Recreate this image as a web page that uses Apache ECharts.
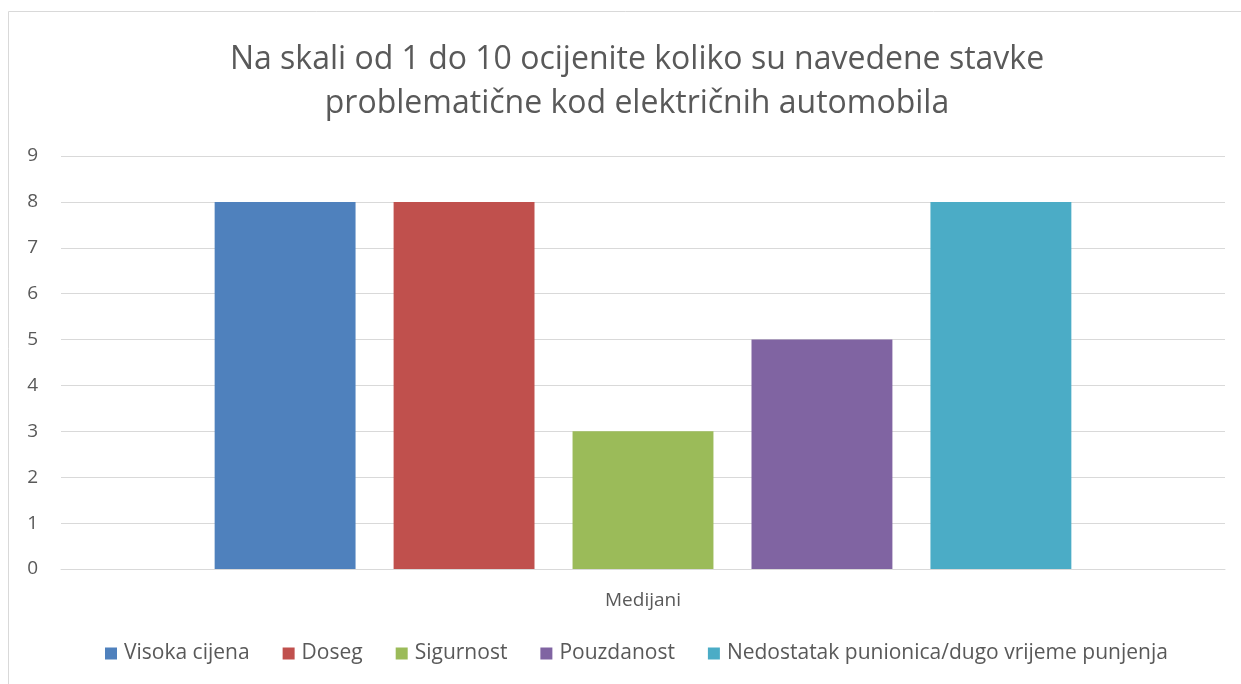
<!DOCTYPE html>
<html><head><meta charset="utf-8">
<script src="https://cdn.jsdelivr.net/npm/echarts@6/dist/echarts.min.js"></script>
<style>html,body{margin:0;padding:0;background:#fff}#c{width:1241px;height:684px}</style>
</head><body><div id="c"></div>
<script>
const titleText = 'Na skali od 1 do 10 ocijenite koliko su navedene stavke\nproblematične kod električnih automobila';
const categories = ['Medijani'];
const seriesNames = ['Visoka cijena', 'Doseg', 'Sigurnost', 'Pouzdanost', 'Nedostatak punionica/dugo vrijeme punjenja'];
const seriesValues = [[8], [8], [3], [5], [8]];
const colors = ['#4F81BD', '#C0504D', '#9BBB59', '#8064A2', '#4BACC6'];
const yTicks = [0, 9, 1];

const chart = echarts.init(document.getElementById('c'));
const font = 'Open Sans';
chart.setOption({
  animation: false,
  color: colors,
  graphic: [{type:'rect', shape:{x:8.5,y:11.5,width:1250,height:700}, style:{fill:'none', stroke:'#d9d9d9', lineWidth:1}, silent:true}],
  title: {text: titleText, left: 632, top: 33, textAlign: 'center',
    textStyle:{fontFamily: font, fontSize: 32, fontWeight:'normal', color:'#595959', lineHeight: 44}},
  legend: {bottom: 15, left: 100, itemWidth: 12, itemHeight: 12, itemGap: 33, icon: 'rect',
    textStyle:{fontFamily: font, fontSize: 21, color:'#595959', padding:[0,0,0,2]}},
  grid: {left: 61, right: 16, top: 156, bottom: 115, containLabel: false},
  xAxis: {type:'category', data: categories,
    axisLine:{lineStyle:{color:'#d9d9d9'}}, axisTick:{show:false},
    axisLabel:{fontFamily: font, fontSize: 19, color:'#595959', margin: 22}},
  yAxis: {type:'value', min: yTicks[0], max: yTicks[1], interval: yTicks[2],
    axisLine:{show:false}, axisTick:{show:false},
    splitLine:{lineStyle:{color:'#d9d9d9'}},
    axisLabel:{fontFamily: font, fontSize: 19, color:'#595959', margin: 23}},
  series: seriesNames.map((n,i)=>({name:n, type:'bar', data: seriesValues[i], barGap:'27%', barCategoryGap:'26.4%'}))
});
</script></body></html>
